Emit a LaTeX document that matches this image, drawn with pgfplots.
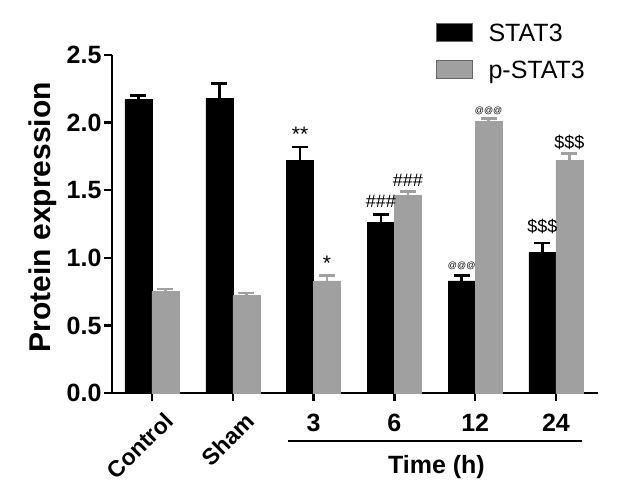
\documentclass[border=0pt]{standalone}
\usepackage{pgfplots}
\pgfplotsset{compat=1.18}
\usepackage{fontspec}
\setmainfont{Liberation Sans}
\definecolor{pgray}{RGB}{160,160,160}
\begin{document}
\begin{tikzpicture}
\begin{axis}[
    scale only axis,
    width=486pt, height=338pt,
    ybar=0pt, bar width=27pt,
    xmin=-0.495, xmax=5.52,
    ymin=0, ymax=2.5,
    ytick={0,0.5,1,1.5,2,2.5},
    yticklabel style={/pgf/number format/fixed,/pgf/number format/fixed zerofill,/pgf/number format/precision=1},
    xtick={2,3,4,5},
    xticklabels={3,6,12,24},
    extra x ticks={0,1},
    extra x tick labels={},
    axis lines*=left,
    axis line style={line width=2.5pt},
    tick style={line width=2.5pt, black},
    tick align=outside,
    major tick length=8pt,
    /pgf/number format/assume math mode=true,
    ticklabel style={font=\bfseries\fontsize{25}{27}\selectfont},
    yticklabel style={xshift=1pt},
    xticklabel style={yshift=-10pt},
    ylabel={Protein expression},
    every axis y label/.style={at={(axis description cs:-0.142,0.52)}, rotate=90, anchor=center,
        font=\bfseries\fontsize{30}{32}\selectfont},
    clip=false,
    legend cell align=left,
    legend style={at={(0.66,1.105)}, anchor=north west, draw=none, fill=none,
        font=\fontsize{25}{27}\selectfont, row sep=14pt,
        /tikz/every odd column/.append style={column sep=14pt}},
    legend image code/.code={\draw[#1,draw=black!60,line width=0.6pt] (0pt,-8pt) rectangle (36pt,10pt);},
]
\addplot[fill=black, draw=black,
    error bars/.cd, y dir=plus, y explicit,
    error bar style={line width=2.5pt, black},
    error mark options={rotate=90, mark size=8pt, line width=2.5pt, black}]
    coordinates {
    (0,2.17) +- (0,0.03)
    (1,2.18) +- (0,0.11)
    (2,1.72) +- (0,0.10)
    (3,1.26) +- (0,0.06)
    (4,0.83) +- (0,0.04)
    (5,1.04) +- (0,0.07)
    };
\addplot[fill=pgray, draw=pgray,
    error bars/.cd, y dir=plus, y explicit,
    error bar style={line width=2.5pt, pgray},
    error mark options={rotate=90, mark size=8pt, line width=2.5pt, pgray}]
    coordinates {
    (0,0.75) +- (0,0.02)
    (1,0.72) +- (0,0.02)
    (2,0.83) +- (0,0.04)
    (3,1.46) +- (0,0.03)
    (4,2.01) +- (0,0.02)
    (5,1.72) +- (0,0.05)
    };
\legend{STAT3,p-STAT3}
% significance marks
\node[font=\fontsize{21}{21}\selectfont] at (axis cs:1.833,1.91) {**};
\node[font=\fontsize{21}{21}\selectfont] at (axis cs:2.167,0.96) {*};
\node[font=\fontsize{18}{18}\selectfont] at (axis cs:2.833,1.415) {\#\#\#};
\node[font=\fontsize{18}{18}\selectfont] at (axis cs:3.167,1.575) {\#\#\#};
\node[font=\fontsize{9}{9}\selectfont] at (axis cs:3.833,0.94) {@@@};
\node[font=\fontsize{9}{9}\selectfont] at (axis cs:4.167,2.09) {@@@};
\node[font=\fontsize{18}{18}\selectfont] at (axis cs:4.833,1.235) {\$\$\$};
\node[font=\fontsize{18}{18}\selectfont] at (axis cs:5.167,1.85) {\$\$\$};
% group labels
\node[rotate=45, anchor=north east, font=\bfseries\fontsize{23}{25}\selectfont] at ([xshift=11pt,yshift=-13pt]axis cs:0,0) {Control};
\node[rotate=45, anchor=north east, font=\bfseries\fontsize{23}{25}\selectfont] at ([xshift=11pt,yshift=-13pt]axis cs:1,0) {Sham};
\draw[line width=2.5pt] ([yshift=-48pt]axis cs:1.68,0) -- ([yshift=-48pt]axis cs:5.32,0);
\node[font=\bfseries\fontsize{25}{27}\selectfont] at ([yshift=-74pt]axis cs:3.52,0) {Time (h)};
\end{axis}
\path (current axis.south west) ++(-112pt,-111pt) rectangle ++(630pt,504pt);
\end{tikzpicture}
\end{document}
